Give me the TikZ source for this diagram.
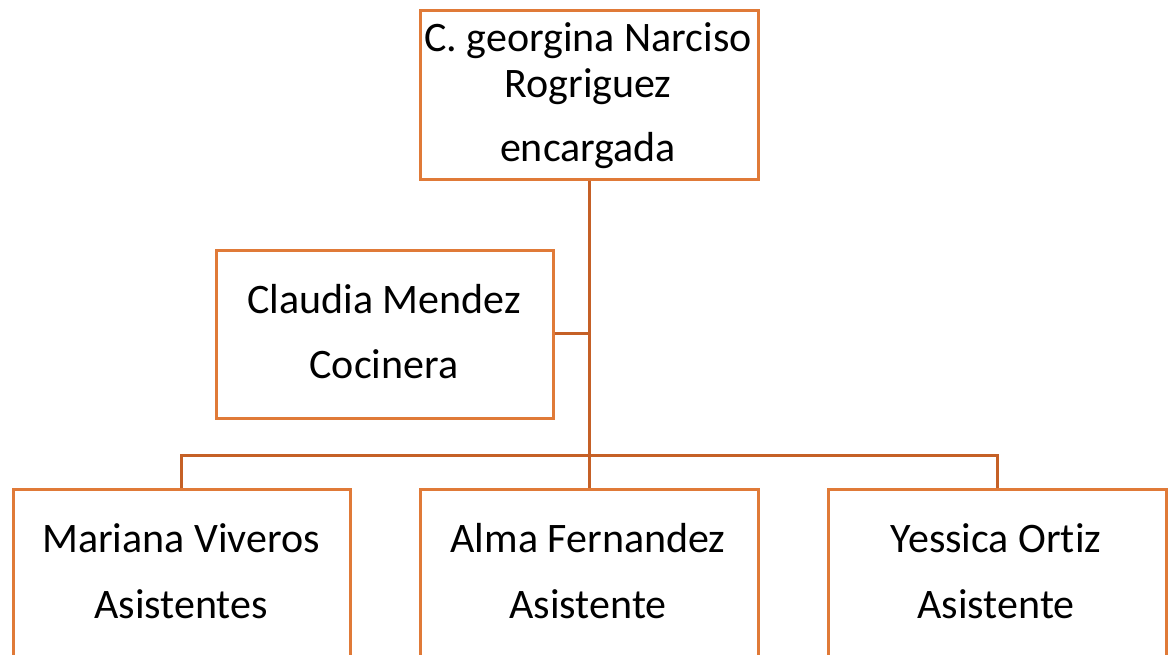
\documentclass[tikz,border=0pt]{standalone}
\usepackage{fontspec}
\setmainfont[Ligatures={NoCommon}]{Carlito}
\definecolor{boxc}{RGB}{224,122,56}
\definecolor{linec}{RGB}{197,96,38}
\begin{document}
\begin{tikzpicture}[x=1pt,y=-1pt,
  orgbox/.style={draw=boxc,line width=2.6pt,rectangle,inner sep=0pt,anchor=north west},
  lbl/.style={anchor=base,inner sep=0pt,font=\fontsize{42}{50}\selectfont},
  conn/.style={draw=linec,line width=3pt}]
\useasboundingbox (0,0) rectangle (1169,655);
\clip (0,0) rectangle (1169,655);
% boxes
\node[orgbox,minimum width=338pt,minimum height=169pt] (top) at (419,9) {};
\node[orgbox,minimum width=337pt,minimum height=168pt] (cook) at (215,249) {};
\node[orgbox,minimum width=337pt,minimum height=260pt] (b1) at (12,488) {};
\node[orgbox,minimum width=338pt,minimum height=260pt] (b2) at (419,488) {};
\node[orgbox,minimum width=338pt,minimum height=260pt] (b3) at (827,488) {};
% texts
\node[lbl] (t1) at (588,52) {C. georgina Narciso};
\node[lbl] (t2) at (588,98) {Rogriguez};
\node[lbl] (t3) at (588,162) {encargada};
\node[lbl] (c1) at (384,313) {Claudia Mendez};
\node[lbl] (c2) at (384,378) {Cocinera};
\node[lbl] (m1) at (181,552) {Mariana Viveros};
\node[lbl] (m2) at (181,618) {Asistentes};
\node[lbl] (a1) at (588,552) {Alma Fernandez};
\node[lbl] (a2) at (588,618) {Asistente};
\node[lbl] (y1) at (996,552) {Yessica Ortiz};
\node[lbl] (y2) at (996,618) {Asistente};
% connectors
\coordinate (bus) at (588,455);
\coordinate (junc) at (588,333);
\draw[conn] (top.south) -- (b2.north);
\draw[conn] (cook.east |- junc) -- (junc);
\draw[conn] (b1.north) |- (bus) -| (b3.north);
\end{tikzpicture}
\end{document}
